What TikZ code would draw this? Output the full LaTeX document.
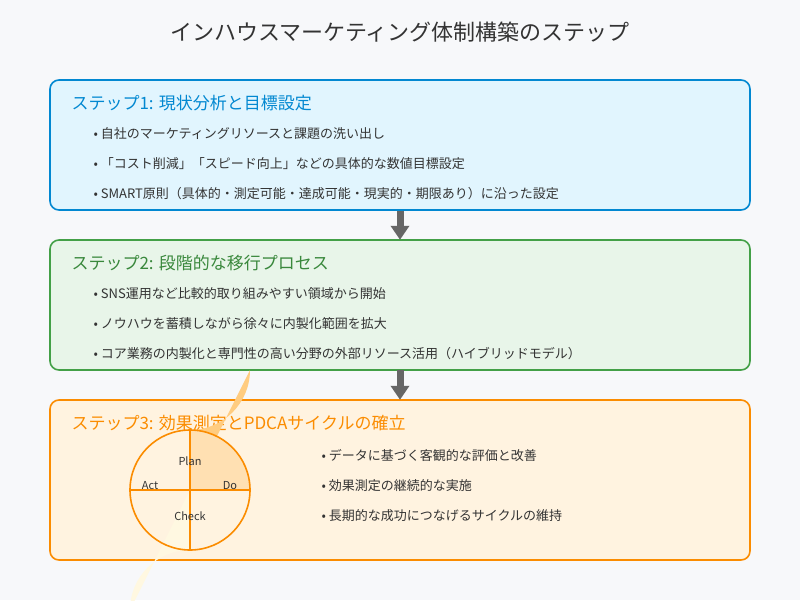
\documentclass[tikz,border=0pt]{standalone}
\usepackage{fontspec}
\setmainfont{Noto Sans CJK JP}
\usetikzlibrary{arrows.meta}
\definecolor{bg}{HTML}{F7F8FA}
\definecolor{tx}{HTML}{333333}
\definecolor{bB}{HTML}{0288D1}\definecolor{fB}{HTML}{E1F5FE}
\definecolor{bG}{HTML}{43A047}\definecolor{fG}{HTML}{E8F5E9}
\definecolor{bO}{HTML}{FB8C00}\definecolor{fO}{HTML}{FFF3E0}
\definecolor{q1}{HTML}{FFCC80}\definecolor{q2}{HTML}{FFE0B2}\definecolor{q3}{HTML}{FFF8E1}
\tikzset{
 stepbox/.style={rounded corners=9pt,line width=1.6pt},
 head/.style={anchor=west,font=\fontsize{17}{20}\selectfont},
 item/.style={anchor=west,text=tx,font=\fontsize{13}{16}\selectfont},
 flow/.style={draw=black!60,line width=7pt,-{Triangle[width=18pt,length=14pt]},shorten >=0pt},
 pd/.style={text=tx,font=\fontsize{11}{13}\selectfont}
}
\begin{document}
\begin{tikzpicture}[x=1pt,y=-1pt]
\fill[bg] (0,0) rectangle (800,600);
\useasboundingbox (0,0) rectangle (800,600);
\node[text=tx,font=\fontsize{22}{26}\selectfont] (title) at (400,32) {インハウスマーケティング体制構築のステップ};
\draw[stepbox,draw=bB,fill=fB] (50,80) rectangle (750,210);
\node[stepbox,draw=none,minimum width=700pt,minimum height=130pt] (b1) at (400,145) {};
\node[head,text=bB] (h1) at (68,103) {ステップ1: 現状分析と目標設定};
\node[item] (i11) at (90,134) {• 自社のマーケティングリソースと課題の洗い出し};
\node[item] (i12) at (90,164) {• 「コスト削減」「スピード向上」などの具体的な数値目標設定};
\node[item] (i13) at (90,194) {• SMART原則（具体的・測定可能・達成可能・現実的・期限あり）に沿った設定};
\draw[stepbox,draw=bG,fill=fG] (50,240) rectangle (750,370);
\node[minimum width=700pt,minimum height=130pt] (b2) at (400,305) {};
\node[head,text=bG!85!black] (h2) at (68,263) {ステップ2: 段階的な移行プロセス};
\node[item] (i21) at (90,294) {• SNS運用など比較的取り組みやすい領域から開始};
\node[item] (i22) at (90,324) {• ノウハウを蓄積しながら徐々に内製化範囲を拡大};
\node[item] (i23) at (90,354) {• コア業務の内製化と専門性の高い分野の外部リソース活用（ハイブリッドモデル）};
\draw[stepbox,draw=bO,fill=fO] (50,400) rectangle (750,560);
\node[minimum width=700pt,minimum height=160pt] (b3) at (400,480) {};
\node[head,text=bO] (h3) at (68,423) {ステップ3: 効果測定とPDCAサイクルの確立};
\draw[flow] (b1.south) -- (b2.north);
\draw[flow] (b2.south) -- (b3.north);
\coordinate (c) at (190,490);
\fill[q1] (c) -- (190,430) arc[start angle=90,end angle=0,radius=60] -- cycle;
\fill[q2] (c) -- (250,490) arc[start angle=0,end angle=-90,radius=60] -- cycle;
\fill[q3] (c) -- (190,550) arc[start angle=-90,end angle=-180,radius=60] -- cycle;
\draw[bO,line width=1.6pt] (c) circle[radius=60];
\draw[bO,line width=1.6pt] (130,490) -- (250,490) (190,430) -- (190,550);
\node[pd] (plan) at (190,461) {Plan};
\node[pd] (do) at (230,486) {Do};
\node[pd] (check) at (190,516) {Check};
\node[pd] (act) at (150,486) {Act};
\node[item] (i31) at (318,455) {• データに基づく客観的な評価と改善};
\node[item] (i32) at (318,486) {• 効果測定の継続的な実施};
\node[item] (i33) at (318,516) {• 長期的な成功につなげるサイクルの維持};
\end{tikzpicture}
\end{document}
